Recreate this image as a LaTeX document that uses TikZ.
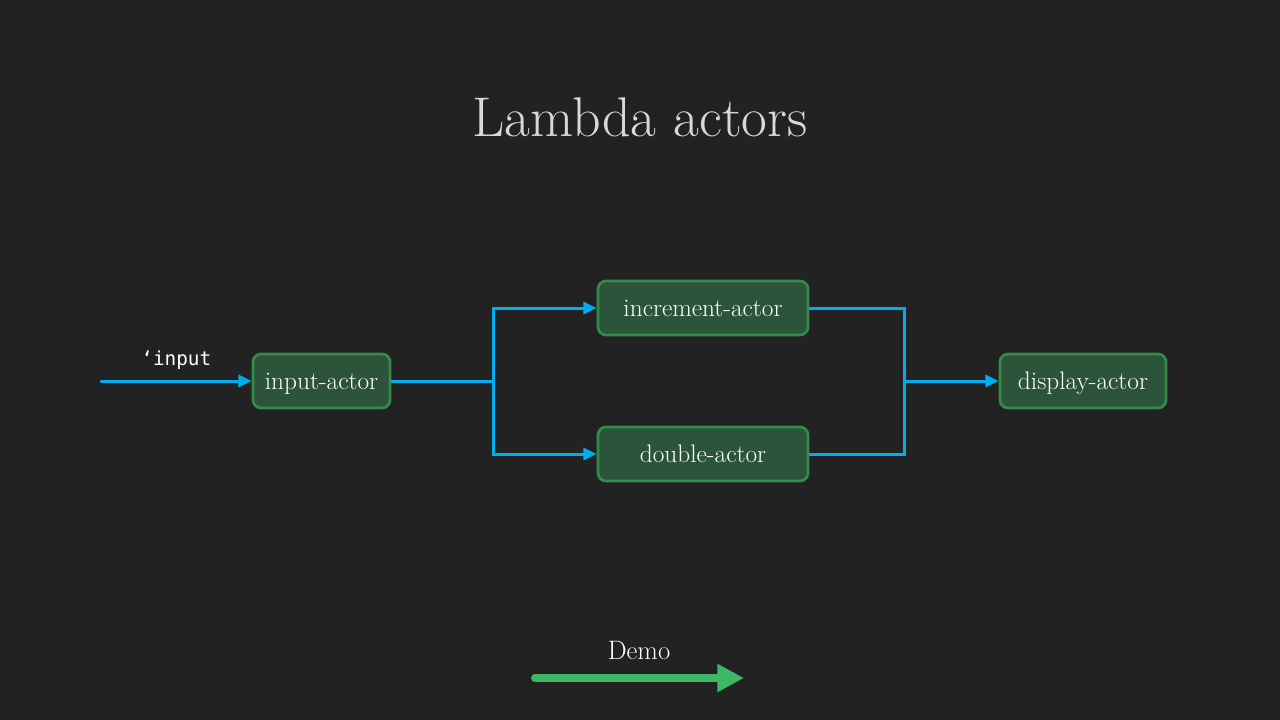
\documentclass[tikz,border=0pt]{standalone}
\usepackage{fontspec}
\newfontfamily\codefont{DejaVu Sans Mono}
\usetikzlibrary{arrows.meta,positioning}
\definecolor{slatebg}{RGB}{34,34,35}
\definecolor{titlegray}{RGB}{216,216,216}
\definecolor{actorfill}{RGB}{44,84,58}
\definecolor{actorline}{RGB}{52,140,74}
\definecolor{flowblue}{RGB}{0,174,239}
\definecolor{demogreen}{RGB}{60,184,100}

\begin{document}
\begin{tikzpicture}[
        x=0.75pt, y=-0.75pt,
        actor/.style={rectangle, rounded corners=6pt, draw=actorline, line width=2pt, fill=actorfill,
            text=white, font=\fontsize{19}{22}\selectfont, minimum height=40.5pt, inner sep=0pt,
            text height=16pt, text depth=4pt},
        flow/.style={line width=2.25pt, draw=flowblue, -{Triangle[length=10pt, width=9pt]}},
        wire/.style={line width=2.25pt, draw=flowblue}
    ]
        % Background and bounds
        \fill[slatebg] (0,0) rectangle (1280,720);
        \useasboundingbox (0,0) rectangle (1280,720);

        % Title
        \node[text=titlegray, font=\fontsize{42}{50}\selectfont] (title) at (640,117) {Lambda actors};

        % Actor blocks
        \node[actor, minimum width=102.75pt] (input) at (321.5,381) {input-actor};
        \node[actor, minimum width=157.5pt] (incr) at (703,308) {increment-actor};
        \node[actor, minimum width=157.5pt] (dbl) at (703,454) {double-actor};
        \node[actor, minimum width=124.5pt] (disp) at (1083,381) {display-actor};

        % Branch points
        \coordinate (src) at (101,381);
        \coordinate (split) at (493,381);
        \coordinate (join) at (904,381);

        % Arrows
        \draw[flow, line cap=round] (src) -- node[above=4pt, text=white, font=\codefont\fontsize{14.5}{17}\selectfont] (msg) {‘input} (input);
        \draw[wire] (input) -- (split);
        \draw[flow] (split) |- (incr);
        \draw[flow] (split) |- (dbl);
        \draw[wire] (incr) -| (join);
        \draw[wire] (dbl) -| (join);
        \draw[flow] (join) -- (disp);

        % Demo link
        \coordinate (demostart) at (535,678);
        \coordinate (demoend) at (744,678);
        \draw[line width=6pt, demogreen, line cap=round, -{Triangle[length=20pt, width=20pt]}] (demostart) -- (demoend);
        \node[text=white, font=\fontsize{20}{24}\selectfont] (demo) at (639,650) {Demo};

    \end{tikzpicture}
\end{document}
